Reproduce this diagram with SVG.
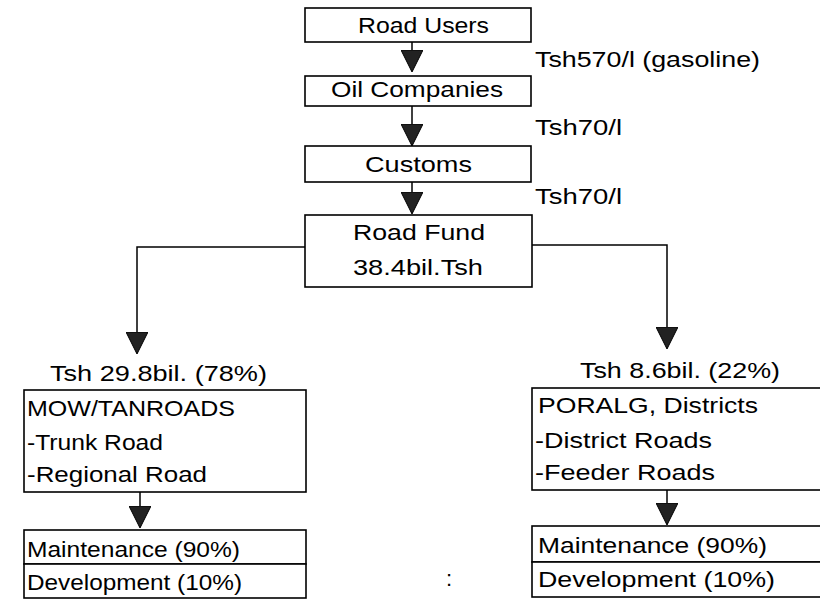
<svg xmlns="http://www.w3.org/2000/svg" width="820" height="605" viewBox="0 0 820 605">
<defs>
<marker id="ah" markerUnits="userSpaceOnUse" markerWidth="24" markerHeight="22" viewBox="0 0 24 22" refX="21" refY="11" orient="auto">
<path d="M0,0 L22,11 L0,22 Z" fill="#222" stroke="#000" stroke-width="1"/>
</marker>
</defs>
<style>
.box{fill:#fff;stroke:#000;stroke-width:1.6}
.t{font-family:"Liberation Sans",Arial,sans-serif;font-size:22px;fill:#000}
.c{text-anchor:middle}
.ln{fill:none;stroke:#000;stroke-width:1.5}
</style>
<rect width="820" height="605" fill="#fff"/>
<g id="connectors">
<line class="ln" x1="412" y1="42" x2="412" y2="71" marker-end="url(#ah)"/>
<line class="ln" x1="412" y1="106" x2="412" y2="145" marker-end="url(#ah)"/>
<line class="ln" x1="412" y1="182" x2="412" y2="213" marker-end="url(#ah)"/>
<polyline class="ln" points="305,247 137,247 137,353" marker-end="url(#ah)"/>
<polyline class="ln" points="532,245 667,245 667,348" marker-end="url(#ah)"/>
<line class="ln" x1="140" y1="492" x2="140" y2="527" marker-end="url(#ah)"/>
<line class="ln" x1="667" y1="490" x2="667" y2="524" marker-end="url(#ah)"/>
</g>
<g id="road-users">
<rect class="box" x="305" y="8" width="226" height="34"/>
<text class="t" x="358" y="33" textLength="131" lengthAdjust="spacingAndGlyphs">Road Users</text>
</g>
<g id="oil-companies">
<rect class="box" x="305" y="76" width="226" height="30"/>
<text class="t" x="331" y="97" textLength="172" lengthAdjust="spacingAndGlyphs">Oil Companies</text>
</g>
<g id="customs">
<rect class="box" x="305" y="146" width="226" height="36"/>
<text class="t" x="365" y="172" textLength="107" lengthAdjust="spacingAndGlyphs">Customs</text>
</g>
<g id="road-fund">
<rect class="box" x="305" y="215" width="227" height="72"/>
<text class="t" x="353" y="240" textLength="132" lengthAdjust="spacingAndGlyphs">Road Fund</text>
<text class="t" x="353" y="275" textLength="130" lengthAdjust="spacingAndGlyphs">38.4bil.Tsh</text>
</g>
<g id="flow-labels">
<text class="t" x="535" y="67" textLength="225" lengthAdjust="spacingAndGlyphs">Tsh570/l (gasoline)</text>
<text class="t" x="535" y="135" textLength="87" lengthAdjust="spacingAndGlyphs">Tsh70/l</text>
<text class="t" x="535" y="204" textLength="87" lengthAdjust="spacingAndGlyphs">Tsh70/l</text>
<text class="t" x="50" y="381" textLength="217" lengthAdjust="spacingAndGlyphs">Tsh 29.8bil. (78%)</text>
<text class="t" x="580" y="378" textLength="200" lengthAdjust="spacingAndGlyphs">Tsh 8.6bil. (22%)</text>
</g>
<g id="mow-tanroads">
<rect class="box" x="24" y="390" width="282" height="102"/>
<text class="t" x="27" y="416" textLength="208" lengthAdjust="spacingAndGlyphs">MOW/TANROADS</text>
<text class="t" x="27" y="450" textLength="136" lengthAdjust="spacingAndGlyphs">-Trunk Road</text>
<text class="t" x="27" y="482" textLength="180" lengthAdjust="spacingAndGlyphs">-Regional Road</text>
</g>
<g id="mow-split">
<rect class="box" x="24" y="530" width="282" height="34"/>
<rect class="box" x="24" y="564" width="282" height="34"/>
<text class="t" x="27" y="557" textLength="213" lengthAdjust="spacingAndGlyphs">Maintenance (90%)</text>
<text class="t" x="27" y="590" textLength="215" lengthAdjust="spacingAndGlyphs">Development (10%)</text>
</g>
<g id="poralg">
<rect class="box" x="532" y="388" width="300" height="102"/>
<text class="t" x="538" y="413" textLength="220" lengthAdjust="spacingAndGlyphs">PORALG, Districts</text>
<text class="t" x="535" y="448" textLength="177" lengthAdjust="spacingAndGlyphs">-District Roads</text>
<text class="t" x="535" y="480" textLength="180" lengthAdjust="spacingAndGlyphs">-Feeder Roads</text>
</g>
<g id="poralg-split">
<rect class="box" x="532" y="526" width="300" height="36"/>
<rect class="box" x="532" y="562" width="300" height="35"/>
<text class="t" x="538" y="553" textLength="229" lengthAdjust="spacingAndGlyphs">Maintenance (90%)</text>
<text class="t" x="538" y="587" textLength="237" lengthAdjust="spacingAndGlyphs">Development (10%)</text>
</g>
<text class="t" x="446" y="586" font-size="20">:</text>
</svg>
